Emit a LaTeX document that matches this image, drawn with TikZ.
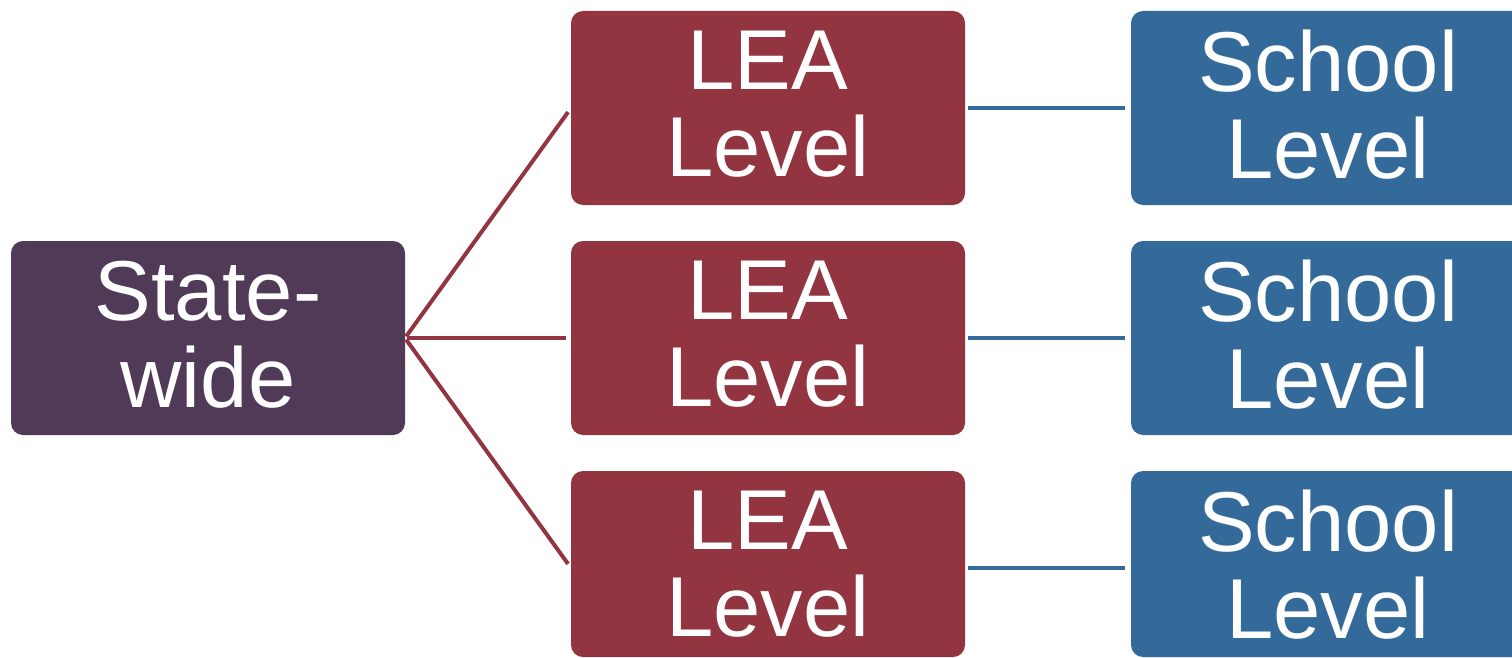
\documentclass[tikz,border=0pt]{standalone}
\usepackage{fontspec}
\setmainfont{Liberation Sans}
\definecolor{statecol}{HTML}{503A58}
\definecolor{leacol}{HTML}{923540}
\definecolor{schoolcol}{HTML}{336A9A}
\begin{document}
\begin{tikzpicture}[x=1pt,y=-1pt,
  box/.style={rounded corners=12pt, minimum width=394pt, minimum height=194pt,
    inner sep=0pt, outer sep=0pt, text=white, align=center, text depth=8pt,
    font=\fontsize{85}{87}\selectfont},
  statebox/.style={box, fill=statecol},
  leabox/.style={box, fill=leacol},
  schoolbox/.style={box, fill=schoolcol},
  lowbox/.style={minimum height=186pt, text depth=0pt},
  tolea/.style={draw=leacol, line width=4pt, shorten <=2pt, shorten >=5pt},
  toschool/.style={draw=schoolcol, line width=4.5pt, shorten <=3pt, shorten >=6pt}]
  \useasboundingbox (0,0) rectangle (1512,658);
  \clip (0,0) rectangle (1512,658);

  % state level
  \node[statebox] (state) at (208,338) {State-\\wide};

  % district (LEA) level
  \node[leabox] (lea1) at (768,108) {LEA\\Level};
  \node[leabox] (lea2) at (768,338) {LEA\\Level};
  \node[leabox, lowbox] (lea3) at (768,564) {LEA\\Level};

  % school level
  \node[schoolbox] (school1) at (1328,108) {School\\Level};
  \node[schoolbox] (school2) at (1328,338) {School\\Level};
  \node[schoolbox, lowbox] (school3) at (1328,564) {School\\Level};

  % connection points on the left and right edges of each row
  \coordinate (in1) at (lea1.west);
  \coordinate (in2) at (lea2.west);
  \coordinate (in3) at ([yshift=-4pt]lea3.west);
  \coordinate (out1) at (lea1.east);
  \coordinate (out2) at (lea2.east);
  \coordinate (out3) at ([yshift=-4pt]lea3.east);
  \coordinate (end1) at (school1.west);
  \coordinate (end2) at (school2.west);
  \coordinate (end3) at ([yshift=-4pt]school3.west);

  % connectors
  \foreach \i in {1,2,3} {
    \draw[tolea] (state.east) -- (in\i);
    \draw[toschool] (out\i) -- (end\i);
  }
\end{tikzpicture}
\end{document}
